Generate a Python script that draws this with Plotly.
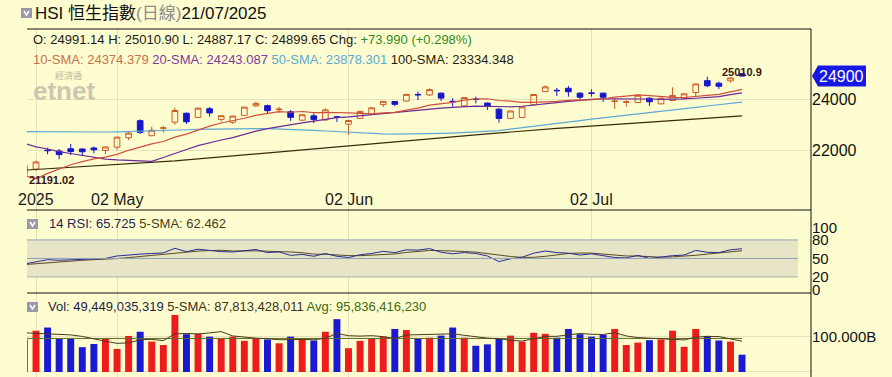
import plotly.graph_objects as go

# ---------------- data ----------------
dates = ["2025-04-17", "2025-04-22", "2025-04-23", "2025-04-24", "2025-04-25", "2025-04-28", "2025-04-29",
         "2025-04-30", "2025-05-02", "2025-05-06", "2025-05-07", "2025-05-08", "2025-05-09", "2025-05-12",
         "2025-05-13", "2025-05-14", "2025-05-15", "2025-05-16", "2025-05-19", "2025-05-20", "2025-05-21",
         "2025-05-22", "2025-05-23", "2025-05-26", "2025-05-27", "2025-05-28", "2025-05-29", "2025-05-30",
         "2025-06-02", "2025-06-03", "2025-06-04", "2025-06-05", "2025-06-06", "2025-06-09", "2025-06-10",
         "2025-06-11", "2025-06-12", "2025-06-13", "2025-06-16", "2025-06-17", "2025-06-18", "2025-06-19",
         "2025-06-20", "2025-06-23", "2025-06-24", "2025-06-25", "2025-06-26", "2025-06-27", "2025-06-30",
         "2025-07-02", "2025-07-03", "2025-07-04", "2025-07-07", "2025-07-08", "2025-07-09", "2025-07-10",
         "2025-07-11", "2025-07-14", "2025-07-15", "2025-07-16", "2025-07-17", "2025-07-18", "2025-07-21"]

opens = [21050, 21250, 21990, 21960, 22050, 22040, 22080, 21980, 22110, 22480, 23150, 22560, 22850, 23090,
         23440, 23280, 23620, 23200, 23090, 23360, 23730, 23740, 23580, 23500, 23170, 23340, 23180, 23300,
         23010, 23240, 23400, 23780, 23900, 23920, 24180, 24160, 24230, 23910, 23730, 24000, 23840, 23600,
         23240, 23270, 23770, 24290, 24340, 24420, 24230, 24240, 24230, 23900, 23870, 23860, 24030, 23810,
         23940, 24030, 24250, 24720, 24620, 24710, 24991.14]
highs = [21420, 21580, 22090, 22040, 22235, 22060, 22130, 22140, 22520, 22720, 23200, 22910, 22950, 23660,
         23470, 23660, 23680, 23360, 23340, 23690, 23900, 23780, 23690, 23570, 23400, 23440, 23640, 23340,
         23170, 23530, 23680, 23920, 23920, 24200, 24290, 24420, 24250, 24030, 24070, 24090, 23860, 23640,
         23540, 23700, 24200, 24530, 24430, 24510, 24260, 24380, 24250, 24030, 23950, 24160, 24070, 24060,
         24460, 24230, 24600, 24875, 24680, 24840, 25010.90]
lows = [21010, 21191.02, 21830, 21640, 21805, 21770, 21870, 21840, 22000, 22390, 22630, 22540, 22680, 22990,
        23020, 23260, 23310, 23110, 23020, 23330, 23690, 23410, 23460, 23140, 23150, 23050, 23150, 23100,
        22590, 23220, 23370, 23680, 23720, 23900, 23960, 24120, 23920, 23700, 23710, 23830, 23570, 23070,
        23220, 23250, 23750, 24270, 24120, 24090, 24000, 24090, 23890, 23610, 23700, 23840, 23730, 23790,
        23920, 24010, 24090, 24460, 24390, 24640, 24887.17]
closes = [21395, 21530, 21975, 21820, 21940, 21930, 22008, 22119, 22504, 22662, 22692, 22776, 22868, 23549,
          23108, 23640, 23453, 23345, 23332, 23681, 23828, 23544, 23601, 23282, 23382, 23200, 23573, 23290,
          23158, 23512, 23654, 23907, 23792, 24181, 24163, 24367, 24035, 23893, 24061, 23980, 23711, 23238,
          23530, 23689, 24177, 24475, 24325, 24284, 24072, 24221, 24070, 23916, 23888, 24148, 23892, 24028,
          24140, 24203, 24590, 24518, 24499, 24826, 24899.65]

sma10 = [21000, 20868, 21083, 21252, 21420, 21545, 21654, 21724, 21828, 21988, 22118, 22243, 22332, 22505,
         22622, 22793, 22937, 23060, 23143, 23244, 23358, 23435, 23508, 23481, 23509, 23465, 23477, 23471,
         23454, 23437, 23420, 23456, 23475, 23565, 23643, 23760, 23806, 23866, 23957, 24003, 24009, 23942,
         23916, 23867, 23868, 23879, 23908, 23947, 23948, 23972, 24008, 24076, 24112, 24158, 24129, 24084,
         24066, 24058, 24110, 24139, 24182, 24273, 24374.379]
sma20 = [22259, 22125, 22039, 21935, 21864, 21787, 21708, 21643, 21612, 21585, 21559, 21555, 21707, 21878,
         22021, 22169, 22295, 22392, 22485, 22616, 22738, 22839, 22920, 22993, 23065, 23129, 23207, 23266,
         23298, 23341, 23389, 23445, 23492, 23523, 23576, 23612, 23641, 23669, 23705, 23720, 23714, 23699,
         23695, 23716, 23756, 23819, 23857, 23907, 23952, 23988, 24009, 24009, 24014, 24012, 23999, 23982,
         23987, 24002, 24029, 24056, 24095, 24175, 24243.087]
sma50 = [22720, 22715, 22710, 22705, 22700, 22700, 22700, 22705, 22710, 22720, 22730, 22745, 22760, 22780,
         22795, 22810, 22820, 22830, 22835, 22840, 22840, 22835, 22825, 22810, 22790, 22770, 22745, 22720,
         22690, 22665, 22640, 22630, 22625, 22625, 22630, 22640, 22650, 22665, 22685, 22710, 22735, 22760,
         22820, 22880, 22935, 22990, 23045, 23100, 23155, 23210, 23265, 23320, 23375, 23425, 23475, 23525,
         23575, 23625, 23675, 23725, 23780, 23830, 23878.301]
sma100 = [21210, 21236, 21262, 21288, 21314, 21340, 21366, 21392, 21418, 21444, 21470, 21496, 21534, 21572,
          21610, 21648, 21686, 21724, 21762, 21800, 21838, 21876, 21914, 21952, 21990, 22030, 22070, 22110,
          22150, 22190, 22230, 22270, 22310, 22350, 22390, 22430, 22470, 22510, 22550, 22590, 22630, 22670,
          22710, 22750, 22790, 22820, 22850, 22880, 22910, 22940, 22970, 23000, 23030, 23060, 23090, 23120,
          23150, 23180, 23210, 23240, 23270, 23300, 23334.348]

rsi14 = [41, 44, 48, 47, 48, 48, 49, 50, 54, 56, 57, 58, 59, 66.4, 61, 65, 62.6, 61, 60.5, 63, 64.5, 59.5,
         60.5, 55, 56.5, 53.5, 58, 53.5, 51.5, 56, 58, 61.5, 59.5, 64, 63.5, 66, 60, 57.5, 59.5, 58, 54, 45,
         49.5, 52, 58.5, 62, 59.5, 58.5, 55.5, 57.5, 54.5, 51.5, 51, 55, 50, 52.5, 54.5, 55.5, 63, 60, 59.5,
         64, 65.725]
rsi_sma5 = [40, 41.5, 43.5, 45, 46.4, 47, 48, 48.4, 49.8, 51.4, 53.2, 55, 56.8, 59.3, 60.3, 61.9, 62.8, 63.2,
            62.0, 62.4, 62.3, 61.7, 61.6, 60.5, 59.2, 57, 56.7, 55.3, 54.6, 54.5, 55.4, 56.1, 57.3, 59.8, 61.3,
            62.9, 62.6, 62.2, 61.3, 60.2, 57.8, 54.8, 53.2, 51.7, 51.8, 53.4, 56.3, 58.1, 58.8, 58.6, 57.1,
            55.5, 54, 53.9, 52.4, 52, 52.6, 53.5, 55.1, 57.1, 58.5, 60.4, 62.462]

volume_b = [93, 118, 127, 96, 96, 71, 80, 96, 66, 103, 115, 87, 77, 163, 108, 109, 101, 96, 101, 89, 96, 93,
            82, 101, 94, 90, 115, 151, 68, 89, 96, 101, 123, 120, 96, 98, 104, 127, 98, 75, 79, 96, 104, 87,
            112, 109, 98, 123, 108, 101, 106, 123, 77, 84, 91, 93, 118, 72, 123, 103, 90, 87, 49.449]
vol_sma5_b = [112, 110, 108, 107, 106, 101.6, 94, 87.8, 81.8, 83.2, 92, 93.4, 89.6, 109, 110, 108.8, 111.6,
              115.4, 103, 99.2, 96.6, 95, 92.2, 92.2, 93.2, 92, 96.4, 110.2, 103.6, 102.6, 103.8, 101, 95.4,
              105.8, 107.2, 107.6, 108.2, 109, 104.6, 100.4, 96.6, 95, 90.4, 88.2, 95.6, 101.6, 102, 105.8,
              110, 107.8, 107.2, 112.2, 103, 98.2, 96.2, 93.6, 92.6, 91.6, 99.4, 101.8, 101.2, 95, 87.813]
vol_avg_b = 95.836

tick_dates = ["2025-04-22", "2025-05-02", "2025-06-02", "2025-07-02"]
tick_labels = ["2025", "02 May", "02 Jun", "02 Jul"]
price_ticks = [22000, 24000]
rsi_ticks = [0, 20, 50, 80, 100]
vol_ticks = [0, 100]
vol_tick_labels = ["0", "100.000B"]

# ---------------- styling ----------------
BG = "#fefdd0"
GRID = "#e6e2c0"
UP = "#cc5a24"
DN = "#1616cc"
VUP = "#ee1c1c"
VDN = "#1a1ad4"
FONT = "Arial, 'Liberation Sans', 'Noto Sans CJK TC', sans-serif"

W, H = 892, 377
L, R, T, B = 27, 81, 29, 0
PW = W - L - R
PH = H - T - B


def px(xp):
    return (xp - L) / PW


def py(yp):
    return (H - B - yp) / PH


main_dom = [py(210), 1.0]
rsi_dom = [py(293), py(210)]
vol_dom = [0.0, py(293)]
x_range = [0.222, 67.96]

fig = go.Figure()

# moving averages (behind candles)
for arr, col in [(sma100, "#3a2a0c"), (sma50, "#5ea8d8"), (sma20, "#6a2a98"), (sma10, "#d0503c")]:
    fig.add_trace(go.Scatter(x=dates, y=arr, mode="lines", line=dict(color=col, width=1.2),
                             xaxis="x", yaxis="y", hoverinfo="skip", showlegend=False))

fig.add_trace(go.Candlestick(
    x=dates, open=opens, high=highs, low=lows, close=closes,
    increasing=dict(line=dict(color=UP, width=1), fillcolor="rgba(0,0,0,0)"),
    decreasing=dict(line=dict(color=DN, width=1), fillcolor=DN),
    whiskerwidth=0, xaxis="x", yaxis="y", hoverinfo="skip", showlegend=False))

# RSI panel
fig.add_trace(go.Scatter(x=dates, y=rsi_sma5, mode="lines", line=dict(color="#5a4a20", width=1),
                         xaxis="x2", yaxis="y2", hoverinfo="skip", showlegend=False))
fig.add_trace(go.Scatter(x=dates, y=rsi14, mode="lines", line=dict(color="#2a2a96", width=1),
                         xaxis="x2", yaxis="y2", hoverinfo="skip", showlegend=False))

# Volume panel
vol_colors = [VUP if c > o else VDN for o, c in zip(opens, closes)]
fig.add_trace(go.Bar(x=dates, y=volume_b, marker=dict(color=vol_colors, line=dict(width=0)), width=0.6,
                     xaxis="x3", yaxis="y3", hoverinfo="skip", showlegend=False))
fig.add_trace(go.Scatter(x=[dates[0], dates[-1]], y=[vol_avg_b, vol_avg_b], mode="lines",
                         line=dict(color="#5e6e22", width=1), xaxis="x3", yaxis="y3",
                         hoverinfo="skip", showlegend=False))
fig.add_trace(go.Scatter(x=dates, y=vol_sma5_b, mode="lines", line=dict(color="#4a3a1a", width=1),
                         xaxis="x3", yaxis="y3", hoverinfo="skip", showlegend=False))

xcommon = dict(type="category", tickvals=tick_dates, showticklabels=False, showgrid=True,
               gridcolor=GRID, gridwidth=1, zeroline=False, showline=False, ticks="",
               range=x_range, autorange=False, automargin=False)

fig.update_layout(
    width=W, height=H, autosize=False,
    margin=dict(l=L, r=R, t=T, b=B, pad=0, autoexpand=False),
    paper_bgcolor=BG, plot_bgcolor=BG, showlegend=False,
    font=dict(family=FONT, color="#1a1a1a"),
    xaxis=dict(domain=[0, 1], anchor="y", rangeslider=dict(visible=False), **xcommon),
    xaxis2=dict(domain=[0, 1], anchor="y2", **xcommon),
    xaxis3=dict(domain=[0, 1], anchor="y3", **xcommon),
    yaxis=dict(domain=main_dom, anchor="x", side="right", range=[19647, 26745], automargin=False,
               tickvals=price_ticks, ticktext=[str(v) for v in price_ticks],
               showgrid=True, gridcolor=GRID, zeroline=False, ticks="",
               tickfont=dict(size=16, color="#111")),
    yaxis2=dict(domain=rsi_dom, anchor="x2", side="right", range=[-6.0, 128.5], automargin=False,
                tickvals=rsi_ticks, ticktext=[str(v) for v in rsi_ticks],
                showgrid=False, zeroline=False, ticks="", tickfont=dict(size=15, color="#111")),
    yaxis3=dict(domain=vol_dom, anchor="x3", side="right", range=[-14.3, 225.7], automargin=False,
                tickvals=vol_ticks, ticktext=vol_tick_labels,
                showgrid=True, gridcolor=GRID, zeroline=False, ticks="", tickfont=dict(size=15, color="#111")),
)

shapes = []
# RSI band
shapes.append(dict(type="rect", xref="paper", yref="y2", x0=0, x1=px(798), y0=20, y1=80,
                   fillcolor="#e8e5c6", line=dict(width=0), layer="below"))
for lvl, col in [(80, "#8ea2b6"), (50, "#8ea2b6"), (20, "#a6b4a4")]:
    shapes.append(dict(type="line", xref="paper", yref="y2", x0=0, x1=px(798), y0=lvl, y1=lvl,
                       line=dict(color=col, width=1)))
# panel borders
for yy in [1.0, py(210), py(293)]:
    shapes.append(dict(type="line", xref="paper", yref="paper", x0=0, x1=1, y0=yy, y1=yy,
                       line=dict(color="#111", width=1)))
shapes.append(dict(type="line", xref="paper", yref="paper", x0=1, x1=1, y0=0, y1=1,
                   line=dict(color="#111", width=1)))
# price tag
half = 10.5 / 0.0255
shapes.append(dict(type="path", xref="paper", yref="y",
                   path=f"M {px(812)},{closes[-1]} L {px(818)},{closes[-1] + half} L {px(866)},{closes[-1] + half} "
                        f"L {px(866)},{closes[-1] - half} L {px(818)},{closes[-1] - half} Z",
                   fillcolor="#1818e6", line=dict(width=0)))


# checkbox icons
def icon(x0, y0):
    shapes.append(dict(type="rect", xref="paper", yref="paper", x0=px(x0), x1=px(x0 + 11),
                       y0=py(y0 + 10), y1=py(y0), fillcolor="#9c98ac", line=dict(width=0)))
    shapes.append(dict(type="path", xref="paper", yref="paper",
                       path=f"M {px(x0 + 3)},{py(y0 + 3)} L {px(x0 + 5.5)},{py(y0 + 7)} L {px(x0 + 8)},{py(y0 + 3)}",
                       line=dict(color="white", width=1.5)))


icon(21, 8)
icon(27, 219)
icon(27, 302)
fig.update_layout(shapes=shapes)

ann = []


def text(x, y, s, size=13, color="#1a1a1a", xanchor="left", **kw):
    ann.append(dict(xref="paper", yref="paper", x=px(x), y=py(y), text=s, showarrow=False,
                    xanchor=xanchor, yanchor="middle", font=dict(size=size, color=color, family=FONT), **kw))


text(33, 13.5, "HSI 恒生指數<span style='color:#8c8c8c'>(日線)</span>21/07/2025", size=17, color="#111")
text(31, 39.5, "O: 24991.14 H: 25010.90 L: 24887.17 C: 24899.65 Chg: "
               "<span style='color:#2e8b22'>+73.990 (+0.298%)</span>", size=13)
text(31, 60, "<span style='color:#c8704c'>10-SMA: 24374.379</span> "
             "<span style='color:#7d3a9e'>20-SMA: 24243.087</span> "
             "<span style='color:#5aaad6'>50-SMA: 23878.301</span> "
             "<span style='color:#2a1a0a'>100-SMA: 23334.348</span>", size=13)
text(47, 224, "<span style='color:#23235a'>14 RSI: 65.725</span> "
              "<span style='color:#4a4018'>5-SMA: 62.462</span>", size=13)
text(46, 306, "<span style='color:#1e1e46'>Vol: 49,449,035,319</span> "
              "<span style='color:#3e2e16'>5-SMA: 87,813,428,011</span> "
              "<span style='color:#3e6a12'>Avg: 95,836,416,230</span>", size=13)
# watermark
text(63.5, 91, "<b>etnet</b>", size=26, color="#cbc8b2", xanchor="center")
text(68, 75, "經濟通", size=9, color="#bdb9a6", xanchor="center")
# low / high markers
text(27, 179.5, "<b>21191.02</b>", size=11, color="#3a1410")
text(742, 71.5, "<b>25010.9</b>", size=11, color="#3a1410", xanchor="center")

# x tick labels inside the main panel
for d, lab in zip(tick_dates, tick_labels):
    ann.append(dict(xref="x", yref="paper", x=d, y=py(199.3), text=lab, showarrow=False,
                    xanchor="center", yanchor="middle", font=dict(size=16, color="#1a1a1a", family=FONT)))

# price tag text
ann.append(dict(xref="paper", yref="y", x=px(842), y=closes[-1], text=f"{round(closes[-1])}", showarrow=False,
                xanchor="center", yanchor="middle", font=dict(size=16, color="white", family=FONT)))

fig.update_layout(annotations=ann)

fig.write_html("out.html", config={"displayModeBar": False},
               post_script="document.body.style.margin='0px';document.body.style.overflow='hidden';")
